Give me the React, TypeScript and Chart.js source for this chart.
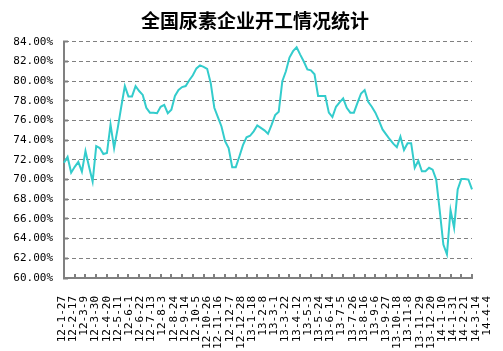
import React, { useEffect, useRef } from 'react';
import { Chart, registerables } from 'chart.js';

Chart.register(...registerables);

const TITLE = '全国尿素企业开工情况统计';

const TICK_LABELS = [
  '12-1-27', '12-2-17', '12-3-9', '12-3-30', '12-4-20', '12-5-11', '12-6-1', '12-6-22',
  '12-7-13', '12-8-3', '12-8-24', '12-9-14', '12-10-5', '12-10-26', '12-11-16', '12-12-7',
  '12-12-28', '13-1-18', '13-2-8', '13-3-1', '13-3-22', '13-4-12', '13-5-3', '13-5-24',
  '13-6-14', '13-7-5', '13-7-26', '13-8-16', '13-9-6', '13-9-27', '13-10-18', '13-11-8',
  '13-11-29', '13-12-20', '14-1-10', '14-1-31', '14-2-21', '14-3-14', '14-4-4',
];

// weekly operating rate (%)
const RATES = [
  71.7, 72.3, 70.7, 71.3, 71.8, 70.8, 72.9, 71.3, 69.8, 73.4,
  73.2, 72.6, 72.7, 75.6, 73.2, 75.2, 77.4, 79.5, 78.45, 78.45,
  79.5, 79.0, 78.6, 77.3, 76.8, 76.8, 76.75, 77.4, 77.6, 76.75,
  77.1, 78.5, 79.1, 79.4, 79.5, 80.1, 80.6, 81.3, 81.6, 81.45,
  81.25, 79.8, 77.3, 76.35, 75.4, 73.9, 73.2, 71.26, 71.26, 72.35,
  73.5, 74.3, 74.45, 74.9, 75.5, 75.25, 75.0, 74.65, 75.55, 76.55,
  76.9, 80.0, 81.0, 82.4, 83.05, 83.45, 82.7, 82.0, 81.2, 81.1,
  80.7, 78.5, 78.5, 78.5, 76.8, 76.35, 77.4, 77.85, 78.25, 77.3,
  76.8, 76.8, 77.8, 78.75, 79.1, 77.9, 77.4, 76.8, 76.0, 75.1,
  74.6, 74.1, 73.65, 73.3, 74.35, 73.0, 73.7, 73.7, 71.2, 71.9,
  70.85, 70.85, 71.2, 71.0, 70.0, 66.8, 63.4, 62.4, 66.9, 65.1,
  69.0, 70.05, 70.05, 70.0, 69.0,
];

const Y_MIN = 60;
const Y_MAX = 84;
const Y_STEP = 2;

// one category per weekly point; every third carries a tick label
const CATEGORIES = RATES.map((_, i) => (i % 3 === 0 ? TICK_LABELS[i / 3] ?? '' : ''));

const MONO = "'DejaVu Sans Mono', 'Liberation Mono', monospace";
const AXIS_GREY = '#808080';

export default function App() {
  const ref = useRef<HTMLCanvasElement | null>(null);

  useEffect(() => {
    const canvas = ref.current;
    if (!canvas) return;
    const chart = new Chart(canvas, {
      type: 'line',
      data: {
        labels: CATEGORIES,
        datasets: [
          {
            data: RATES,
            borderColor: '#33CCCC',
            backgroundColor: '#33CCCC',
            borderWidth: 2,
            pointRadius: 0,
            fill: false,
            tension: 0,
            xAxisID: 'x',
            yAxisID: 'y',
          },
        ],
      },
      options: {
        responsive: false,
        animation: false,
        events: [],
        layout: { padding: { left: 7, right: 0, top: 0, bottom: 0 } },
        plugins: {
          legend: { display: false },
          tooltip: { enabled: false },
          title: {
            display: true,
            text: TITLE,
            color: '#000',
            font: { family: "'Noto Sans CJK SC', sans-serif", size: 19, weight: 'bold', lineHeight: 1.2 },
            padding: { top: 9, bottom: 10 },
          },
        },
        scales: {
          x: {
            type: 'category',
            position: 'bottom',
            weight: 0,
            offset: false,
            grid: {
              display: true,
              drawOnChartArea: false,
              drawTicks: true,
              tickLength: -4,
              lineWidth: 2,
              color: (c: any) => (c.index % 3 === 0 ? AXIS_GREY : 'rgba(0,0,0,0)'),
            },
            border: { display: true, color: AXIS_GREY, width: 2 },
            ticks: { display: false, autoSkip: false },
            afterFit: (s: any) => {
              s.height = 0;
              s.paddingLeft = 0;
              s.paddingRight = 0;
            },
          },
          xl: {
            type: 'linear',
            position: 'bottom',
            weight: 1,
            min: 0.179,
            max: 36.673,
            grid: { display: false },
            border: { display: false },
            ticks: {
              autoSkip: false,
              minRotation: 90,
              maxRotation: 90,
              padding: 10,
              color: '#000',
              font: { family: MONO, size: 11 },
              callback: (v: any) => TICK_LABELS[Math.round(Number(v))] ?? '',
            },
            afterBuildTicks: (s: any) => {
              s.ticks = TICK_LABELS.map((_, k) => ({ value: k }));
            },
            afterFit: (s: any) => {
              s.height = 73;
              s.paddingLeft = 0;
              s.paddingRight = 0;
            },
          },
          y: {
            type: 'linear',
            position: 'left',
            min: Y_MIN,
            max: Y_MAX,
            grid: {
              color: AXIS_GREY,
              lineWidth: 1,
              drawTicks: true,
              tickLength: -4,
              tickWidth: 2,
              tickColor: AXIS_GREY,
            },
            border: { display: true, color: AXIS_GREY, width: 2, dash: [4, 3] },
            ticks: {
              stepSize: Y_STEP,
              padding: 15,
              color: '#000',
              font: { family: MONO, size: 11 },
              callback: (v: any) => Number(v).toFixed(2) + '%',
            },
            afterFit: (s: any) => {
              s.width = 57;
            },
          },
          yr: {
            type: 'linear',
            position: 'right',
            grid: { display: false },
            border: { display: false },
            ticks: { display: false },
            afterFit: (s: any) => {
              s.width = 31;
              s.paddingTop = 0;
              s.paddingBottom = 0;
            },
          },
        },
      },
    } as any);
    return () => chart.destroy();
  }, []);

  return (
    <div style={{ position: 'fixed', left: 0, top: 0, width: 503, height: 351, background: '#fff' }}>
      <canvas ref={ref} width={503} height={351} style={{ display: 'block' }} />
    </div>
  );
}
